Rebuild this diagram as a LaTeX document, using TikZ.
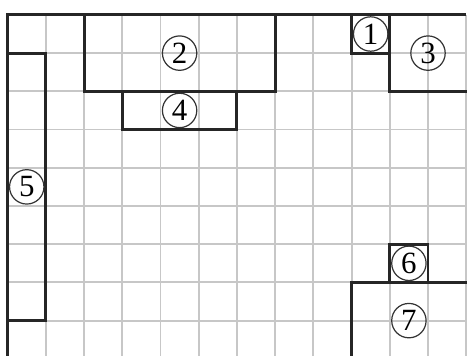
\documentclass[tikz,border=0pt]{standalone}
\usepackage{fontspec}
\setmainfont{Liberation Serif}
\usepackage{tikz}

\begin{document}
\begin{tikzpicture}[
			x=0.5cm, y=0.5cm,
			gridline/.style={
				line width=0.7pt,
				draw=black!22
			},
			wall/.style={
				line width=1.1pt,
				draw=black!85
			},
			numnode/.style={
				circle,
				draw=black!80,
				line width=0.45pt,
				minimum size=0.45cm,
				inner sep=0pt,
				font=\fontsize{11.5}{13}\selectfont
			}
			]
			\clip (-0.2,0.39) rectangle (12.02,-8.92);
			\draw[gridline, step=1] (0,-9) grid (12,0);
			
			\draw[wall] (12,0) -- (0,0) -- (0,-9);
			\draw[wall] (2,0) rectangle (7,-2);
			\draw[wall] (3,-2) rectangle (6,-3);
			\draw[wall] (9,0) rectangle (10,-1);
			\draw[wall] (10,-1) -- (10,-2) -- (12.5,-2);
			\draw[wall] (0,-1) rectangle (1,-8);
			\draw[wall] (10,-6) rectangle (11,-7);
			\draw[wall] (9,-9) -- (9,-7) -- (12.5,-7);
			
			\node[numnode] (r1) at (9.5,-0.5) {1};
			\node[numnode] (r2) at (4.5,-1) {2};
			\node[numnode] (r3) at (11,-1) {3};
			\node[numnode] (r4) at (4.5,-2.5) {4};
			\node[numnode] (r5) at (0.5,-4.5) {5};
			\node[numnode] (r6) at (10.5,-6.5) {6};
			\node[numnode] (r7) at (10.5,-8) {7};
		\end{tikzpicture}
\end{document}
